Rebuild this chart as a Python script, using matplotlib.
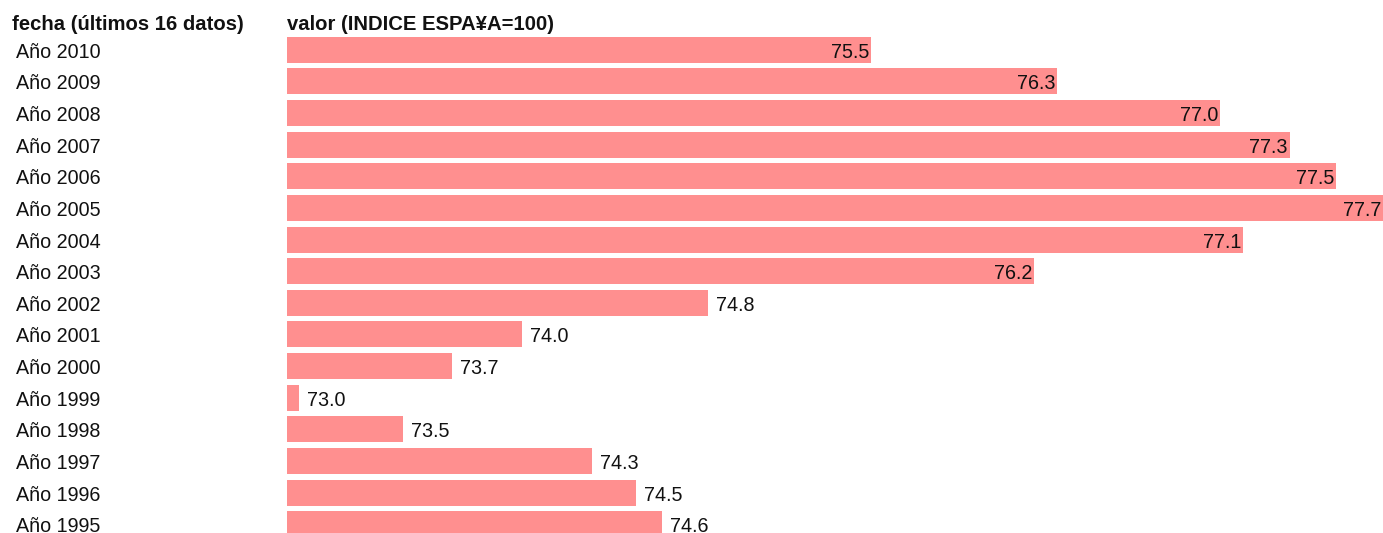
import matplotlib
matplotlib.use("Agg")
import matplotlib.pyplot as plt

plt.rcParams['font.family'] = ['Liberation Sans', 'DejaVu Sans']

categories = ["Año 2010", "Año 2009", "Año 2008", "Año 2007", "Año 2006", "Año 2005",
              "Año 2004", "Año 2003", "Año 2002", "Año 2001", "Año 2000", "Año 1999",
              "Año 1998", "Año 1997", "Año 1996", "Año 1995"]
values = [75.46, 76.26, 76.96, 77.26, 77.46, 77.66, 77.06, 76.16,
          74.76, 73.96, 73.66, 73.00, 73.45, 74.26, 74.45, 74.56]
header_left = "fecha (últimos 16 datos)"
header_right = "valor (INDICE ESPA¥A=100)"

W, H = 1383, 533
fig = plt.figure(figsize=(W / 100, H / 100), dpi=100)
ax = fig.add_axes([287 / W, -7 / H, 1 - 287 / W, 506 / H])
n = len(categories)
ypos = list(range(n))
ax.barh(ypos, values, height=0.82, color="#FF8F8F", left=0)
xmin, xmax = 72.95, 77.66
ax.set_xlim(xmin, xmax)
ax.set_ylim(n - 0.5, -0.5)
ax.axis("off")

fs = 14.2
dy = -2.5
for i, (c, v) in enumerate(zip(categories, values)):
    ax.annotate(c, xy=(0, i), xycoords=("figure fraction", "data"),
                xytext=(16, dy), textcoords="offset pixels",
                ha="left", va="center", fontsize=fs, color="#111111")
    lab = f"{v:.1f}"
    if v >= 75.0:
        ax.annotate(lab, xy=(v, i), xytext=(-2, dy), textcoords="offset pixels",
                    ha="right", va="center", fontsize=fs, color="#111111")
    else:
        ax.annotate(lab, xy=(v, i), xytext=(8, dy), textcoords="offset pixels",
                    ha="left", va="center", fontsize=fs, color="#111111")

fig.text(12 / W, 1 - 24 / H, header_left, ha="left", va="center",
         fontsize=14.6, fontweight="bold", color="#111111")
fig.text(287 / W, 1 - 24 / H, header_right, ha="left", va="center",
         fontsize=14.6, fontweight="bold", color="#111111")

fig.savefig("out.png", dpi=100)
